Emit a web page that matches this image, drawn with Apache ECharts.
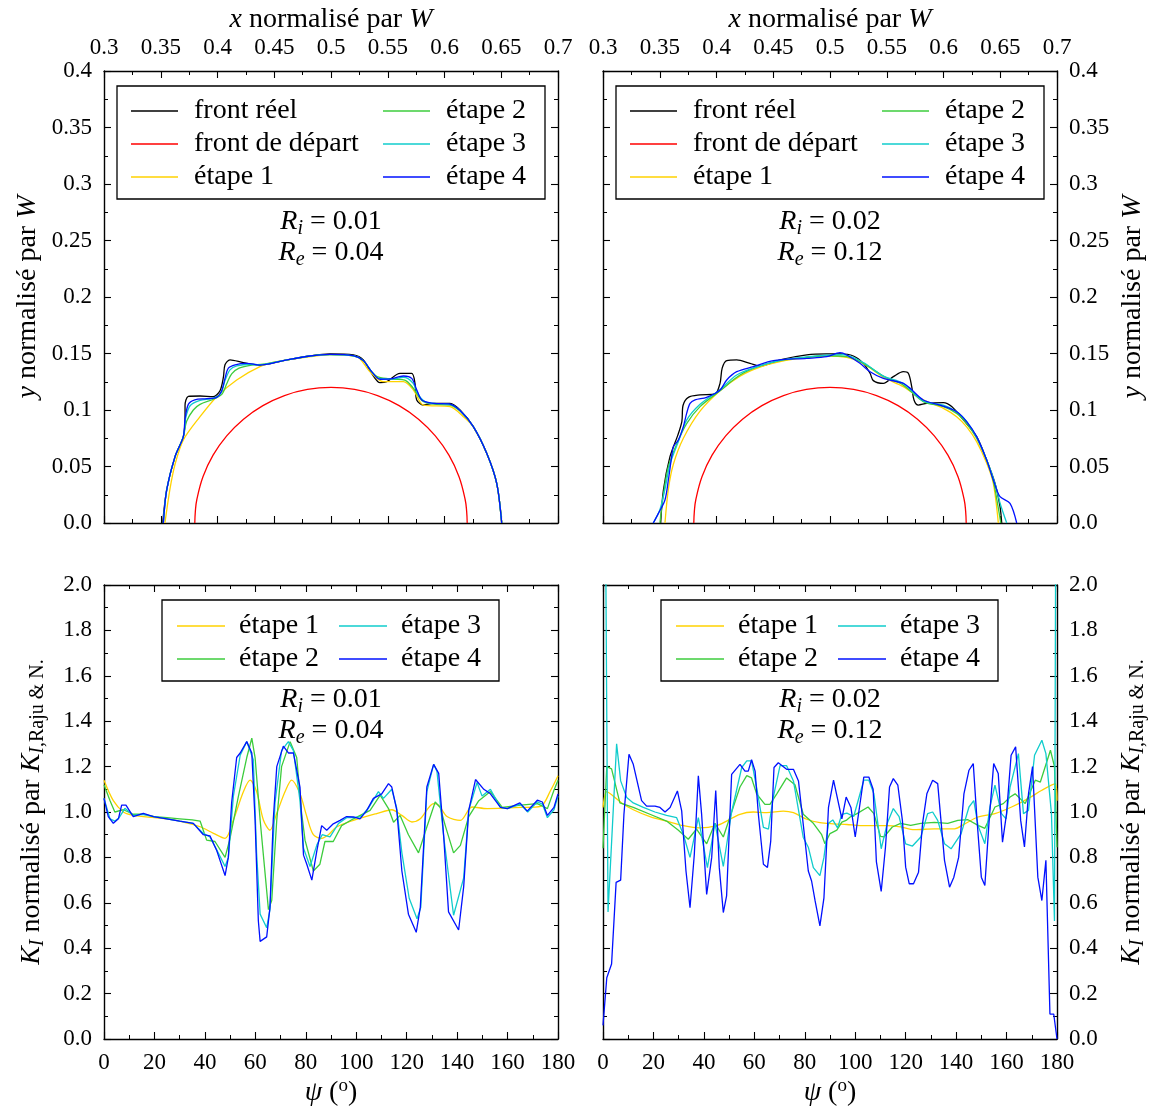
<!DOCTYPE html>
<html><head><meta charset="utf-8">
<script src="https://cdn.jsdelivr.net/npm/echarts@6/dist/echarts.min.js"></script>
<style>html,body{margin:0;padding:0;background:#fff}#c{width:1151px;height:1108px}</style>
</head><body><div id="c"></div><script>
const FONT = 'Liberation Serif';

// ---------- axis ranges [min, max, interval] ----------
const xTopRange = [0.3, 0.7, 0.05];
const yTopRange = [0, 0.4, 0.05];
const psiRange = [0, 180, 20];
const kRange = [0, 2, 0.2];

// ---------- legend labels ----------
const topLegendCol1 = ['front réel', 'front de départ', 'étape 1'];
const topLegendCol2 = ['étape 2', 'étape 3', 'étape 4'];
const botLegendCol1 = ['étape 1', 'étape 2'];
const botLegendCol2 = ['étape 3', 'étape 4'];
const annotTL = ['0.01', '0.04'];
const annotTR = ['0.02', '0.12'];

// ---------- top-left: fronts (x, y) ----------
const tlBlack = [[0.3517,0],[0.3552,0.029],[0.3626,0.0587],[0.3699,0.0764],[0.3714,0.094],[0.3714,0.104],[0.3743,0.112],[0.3846,0.1124],[0.3963,0.1118],[0.4022,0.117],[0.4052,0.129],[0.4066,0.140],[0.4110,0.1443],[0.4228,0.1419],[0.4374,0.1398],[0.4580,0.1437],[0.4815,0.1478],[0.4991,0.1496],[0.5197,0.1487],[0.5285,0.1443],[0.5358,0.1325],[0.5432,0.1242],[0.5491,0.1251],[0.5608,0.1325],[0.5711,0.1325],[0.5740,0.1236],[0.5755,0.1089],[0.5814,0.1044],[0.5902,0.1059],[0.6049,0.1059],[0.6137,0.1000],[0.6254,0.0853],[0.6372,0.0617],[0.6460,0.0351],[0.6504,0]];
const startFront = [[0.38,0],[0.3805,0.0105],[0.3818,0.0208],[0.3872,0.0410],[0.3961,0.06],[0.4081,0.0771],[0.4229,0.0919],[0.44,0.1039],[0.4590,0.1128],[0.4792,0.1182],[0.5,0.12],[0.5208,0.1182],[0.5410,0.1128],[0.56,0.1039],[0.5771,0.0919],[0.5919,0.0771],[0.6039,0.06],[0.6128,0.0410],[0.6182,0.0208],[0.6195,0.0105],[0.62,0]];
const tlStep1 = [[0.3537,0],[0.3581,0.030],[0.3626,0.052],[0.3699,0.0735],[0.3846,0.0941],[0.3993,0.1118],[0.4169,0.1266],[0.4374,0.1384],[0.4521,0.1428],[0.4815,0.1472],[0.4991,0.1490],[0.5226,0.1472],[0.5344,0.1339],[0.5461,0.1251],[0.5638,0.1251],[0.5726,0.1177],[0.5814,0.1044],[0.6049,0.1030],[0.6166,0.0941],[0.6254,0.085],[0.6372,0.0617],[0.6460,0.0351],[0.6504,0]];
const tlStep2 = [[0.3523,0],[0.3552,0.029],[0.3626,0.0587],[0.3699,0.0764],[0.3728,0.090],[0.3787,0.100],[0.3846,0.1050],[0.3963,0.1095],[0.4040,0.114],[0.4080,0.123],[0.4125,0.1320],[0.4190,0.137],[0.4300,0.1398],[0.4400,0.1405],[0.4580,0.1437],[0.4815,0.1478],[0.4991,0.1490],[0.5197,0.1480],[0.5285,0.1437],[0.5358,0.134],[0.5420,0.1290],[0.5549,0.1272],[0.5650,0.1265],[0.5726,0.1192],[0.5800,0.1085],[0.5902,0.1052],[0.6049,0.1044],[0.6137,0.0990],[0.6254,0.0853],[0.6372,0.0617],[0.6460,0.0351],[0.6504,0]];
const tlStep3 = [[0.3523,0],[0.3552,0.029],[0.3626,0.0587],[0.3699,0.0764],[0.3720,0.093],[0.3760,0.104],[0.3846,0.1085],[0.3963,0.1105],[0.4030,0.115],[0.4066,0.126],[0.4110,0.1355],[0.4170,0.139],[0.4286,0.1405],[0.4374,0.1400],[0.4580,0.1437],[0.4815,0.1478],[0.4991,0.1490],[0.5197,0.1480],[0.5285,0.1437],[0.5358,0.134],[0.5420,0.128],[0.5549,0.1275],[0.5638,0.1290],[0.5720,0.124],[0.5780,0.112],[0.5850,0.1065],[0.6049,0.1050],[0.6137,0.0995],[0.6254,0.0853],[0.6372,0.0617],[0.6460,0.0351],[0.6504,0]];
const tlStep4 = [[0.3523,0],[0.3552,0.029],[0.3626,0.0587],[0.3699,0.0764],[0.3714,0.092],[0.3743,0.105],[0.3800,0.109],[0.3905,0.110],[0.3993,0.1112],[0.4037,0.117],[0.4066,0.128],[0.4096,0.137],[0.4155,0.140],[0.4257,0.1413],[0.4374,0.1398],[0.4580,0.1437],[0.4815,0.1478],[0.4991,0.1492],[0.5197,0.1482],[0.5285,0.1437],[0.5358,0.134],[0.5432,0.1272],[0.5520,0.1275],[0.5638,0.1301],[0.5711,0.128],[0.5755,0.118],[0.5800,0.1089],[0.5902,0.1059],[0.6049,0.1052],[0.6137,0.0995],[0.6254,0.0853],[0.6372,0.0617],[0.6460,0.0351],[0.6504,0]];

// ---------- top-right: fronts (x, y) ----------
const trBlack = [[0.3508,0],[0.3532,0.029],[0.3590,0.0587],[0.3660,0.078],[0.3695,0.090],[0.3705,0.104],[0.3752,0.1112],[0.3855,0.1133],[0.3987,0.1142],[0.4031,0.1236],[0.4050,0.1370],[0.4090,0.1437],[0.4178,0.1443],[0.4295,0.1413],[0.4383,0.139],[0.4560,0.1443],[0.4795,0.1487],[0.4971,0.1496],[0.5088,0.1496],[0.5206,0.1478],[0.5294,0.1413],[0.5353,0.1325],[0.5382,0.1260],[0.5470,0.1236],[0.5558,0.1295],[0.5646,0.1339],[0.5690,0.1325],[0.5720,0.1207],[0.5740,0.1089],[0.5778,0.1044],[0.5852,0.1059],[0.5999,0.1065],[0.6072,0.1030],[0.6175,0.0912],[0.6292,0.0764],[0.6380,0.0558],[0.6454,0.0351],[0.6498,0.0145],[0.6513,0]];
const trStep1 = [[0.3546,0],[0.3576,0.03],[0.3620,0.052],[0.3708,0.075],[0.3855,0.099],[0.4031,0.117],[0.4207,0.130],[0.4383,0.138],[0.4560,0.1428],[0.4795,0.1465],[0.4971,0.1478],[0.5147,0.1465],[0.5294,0.1413],[0.5470,0.1290],[0.5646,0.1207],[0.5822,0.1089],[0.5999,0.1015],[0.6116,0.0941],[0.6204,0.085],[0.6292,0.072],[0.6380,0.0530],[0.6439,0.035],[0.6483,0]];
const trStep2 = [[0.3502,0],[0.3532,0.025],[0.3576,0.05],[0.3650,0.070],[0.3737,0.088],[0.3855,0.103],[0.4031,0.117],[0.4207,0.131],[0.4383,0.139],[0.4560,0.1437],[0.4795,0.1465],[0.4971,0.1480],[0.5147,0.1472],[0.5294,0.1413],[0.5470,0.1300],[0.5646,0.1220],[0.5822,0.1074],[0.5999,0.1030],[0.6116,0.097],[0.6204,0.088],[0.6292,0.075],[0.6380,0.0560],[0.6439,0.037],[0.6480,0.015],[0.6505,0]];
const trStep3 = [[0.3443,0],[0.3502,0.012],[0.3546,0.03],[0.3590,0.052],[0.3664,0.072],[0.3737,0.091],[0.3855,0.105],[0.4031,0.118],[0.4178,0.131],[0.4383,0.139],[0.4560,0.1440],[0.4795,0.1470],[0.4971,0.1485],[0.5118,0.1490],[0.5294,0.1420],[0.5470,0.1300],[0.5646,0.1236],[0.5822,0.1080],[0.5999,0.1044],[0.6116,0.0985],[0.6204,0.090],[0.6292,0.076],[0.6380,0.056],[0.6454,0.035],[0.6500,0.017],[0.6557,0]];
const trStep4 = [[0.3443,0],[0.3488,0.0085],[0.3546,0.0204],[0.3576,0.0381],[0.3605,0.0587],[0.3620,0.0675],[0.3664,0.0735],[0.3708,0.0853],[0.3737,0.097],[0.3767,0.1059],[0.3811,0.1089],[0.3913,0.1112],[0.4031,0.1177],[0.4090,0.1266],[0.4178,0.1339],[0.4325,0.1384],[0.4501,0.1437],[0.4795,0.1457],[0.4971,0.1472],[0.5088,0.1507],[0.5147,0.1487],[0.5264,0.1413],[0.5353,0.1339],[0.5470,0.1280],[0.5646,0.1236],[0.5706,0.1192],[0.5822,0.1089],[0.5969,0.1044],[0.6116,0.0985],[0.6204,0.0897],[0.6292,0.0764],[0.6380,0.0557],[0.6439,0.0381],[0.6498,0.0233],[0.6586,0.0174],[0.6645,0]];

// ---------- bottom-left: K_I (psi, K) ----------
const blStep1 = [[0,1.14],[3.7,1.05],[7.7,1.0],[11.6,0.985],[20,0.975],[25,0.97],[30,0.96],[38.1,0.935],[43.4,0.906],[48,0.884],[51.3,0.965],[55.3,1.09],[57.9,1.14],[60.5,1.09],[63.2,0.965],[65.8,0.92],[68.5,0.994],[71.8,1.09],[74.4,1.14],[77.7,1.08],[80.4,0.98],[83,0.90],[86.3,0.884],[89,0.90],[92.2,0.934],[98.9,0.963],[108.1,0.993],[114.1,1.01],[118.1,0.985],[122.1,0.956],[125.4,0.97],[130.7,1.037],[132.7,1.03],[136,0.98],[141.3,0.963],[145.9,1.022],[151.9,1.015],[165.2,1.02],[173.1,1.025],[177.1,1.096],[180,1.16]];
const blStep2 = [[0,1.12],[2.4,1.05],[4.3,1.0],[7.7,1.01],[11.6,0.99],[15.6,0.99],[20,0.98],[25,0.975],[30,0.97],[35,0.965],[38.1,0.96],[40.7,0.876],[44,0.87],[48,0.80],[49.9,0.88],[53.3,1.07],[56.6,1.24],[58.6,1.325],[59.9,1.24],[61.9,0.965],[65.2,0.57],[66.5,0.61],[68.5,0.965],[70.4,1.2],[73.8,1.31],[76.4,1.24],[78.3,1.0],[79.7,0.876],[83,0.74],[85.6,0.77],[87.6,0.87],[90.9,0.87],[94.2,0.94],[98.9,0.97],[105.5,1.007],[109.5,1.074],[112.8,1.015],[114.8,0.955],[117.4,0.985],[120.7,0.90],[124.7,0.82],[128,0.934],[131.3,1.044],[133.3,1.02],[135.3,0.94],[138.6,0.82],[141.3,0.853],[144.6,0.98],[148.6,1.05],[153.2,1.09],[157.9,1.02],[165.2,1.03],[171.8,1.037],[175.8,1.015],[178.4,1.096],[180,1.14]];
const blStep3 = [[0,1.06],[2.4,0.97],[4.3,0.96],[6,0.975],[8.3,1.016],[11.6,0.985],[15.6,0.99],[19.6,0.98],[24.9,0.97],[30,0.96],[35.4,0.95],[39.4,0.906],[42,0.89],[45.3,0.82],[48,0.76],[49.3,0.80],[51.3,1.07],[54,1.25],[56.6,1.31],[59.2,1.23],[60.5,0.82],[61.9,0.55],[64.5,0.49],[65.8,0.57],[67.8,1.04],[70.4,1.27],[73.1,1.31],[75.1,1.27],[77.7,1.05],[79.1,0.84],[81.7,0.76],[84.4,0.855],[86.5,0.90],[89.6,0.89],[93,0.95],[96.2,0.975],[99,0.975],[102,0.98],[105,1.02],[108.8,1.09],[110.8,1.06],[114.1,1.10],[116,1.02],[118.1,0.82],[121,0.62],[124.1,0.53],[125.6,0.58],[128,1.09],[130.7,1.21],[132,1.18],[134.7,0.89],[138.6,0.545],[142.6,0.71],[144.6,1.007],[147.9,1.13],[149.9,1.07],[153.2,1.10],[157.2,1.02],[160,1.015],[165,1.035],[168,1.0],[171.8,1.045],[173.8,1.035],[175.8,0.975],[178.4,1.01],[180,1.07]];
const blStep4 = [[0,1.06],[1.7,0.98],[3.7,0.95],[5.7,0.97],[7,1.03],[8.7,1.03],[11.6,0.98],[15.6,0.994],[19.6,0.98],[24.9,0.97],[30,0.96],[35.4,0.95],[39.4,0.90],[42,0.895],[44.7,0.83],[48,0.72],[49.3,0.80],[50.6,1.04],[52.6,1.24],[54,1.26],[56.6,1.31],[58.6,1.26],[59.9,0.965],[61.2,0.52],[61.9,0.43],[64.5,0.45],[65.8,0.58],[67.1,0.965],[68.5,1.2],[71.1,1.29],[73.1,1.26],[75.1,1.26],[77.7,1.11],[79.1,0.81],[80.4,0.77],[82.4,0.70],[84.4,0.83],[86.3,0.94],[88.3,0.92],[90.9,0.948],[93.6,0.963],[96.2,0.98],[98.9,0.978],[101.5,0.97],[104.2,1.007],[106.8,1.06],[110.1,1.08],[112.8,1.125],[114.1,1.11],[116.1,1.007],[118.1,0.74],[120.7,0.55],[123.8,0.47],[125.4,0.58],[128.0,1.11],[130.7,1.21],[132.7,1.17],[134.7,0.89],[136.6,0.56],[140.6,0.48],[142.6,0.67],[144.6,1.007],[147.3,1.143],[150.6,1.10],[153.2,1.08],[157.2,1.02],[159.9,1.015],[164.9,1.04],[167.8,1.004],[171.8,1.052],[173.8,1.044],[175.8,0.985],[178.4,1.02],[180,1.08]];

// ---------- bottom-right: K_I (psi, K) ----------
const brStep1 = [[0,1.02],[1.5,1.09],[4.1,1.07],[7.4,1.04],[12,1.01],[18.6,0.98],[25.2,0.96],[31.9,0.94],[38.5,0.93],[45.1,0.94],[49,0.96],[54.3,0.99],[59.6,1.0],[64.9,0.997],[71.5,1.004],[75.5,0.997],[80.8,0.968],[86,0.953],[91.4,0.948],[96.7,0.945],[102,0.94],[112.7,0.94],[118,0.934],[123.4,0.922],[131.4,0.926],[139.4,0.926],[143.4,0.948],[148.7,0.978],[155.4,0.993],[162,1.022],[168.7,1.06],[174,1.096],[179.3,1.125],[180,1.05]];
const brStep2 = [[0,0.84],[1.5,1.2],[3.4,1.19],[6.7,1.04],[12,1.02],[18.6,0.99],[25.2,0.96],[29.9,0.92],[33.8,0.88],[37.1,0.925],[41.1,0.86],[44.4,0.95],[47.7,0.89],[51,1.0],[54.3,1.11],[57,1.16],[58.9,1.15],[60.9,1.08],[64.2,1.034],[66.2,1.034],[68.9,1.08],[72.8,1.15],[76.1,1.12],[79.4,0.99],[83.4,0.95],[86.7,0.90],[88,0.86],[90,0.905],[92.7,0.92],[94.7,0.955],[96.4,0.963],[98,0.978],[100.7,0.993],[105.1,1.022],[107.4,0.993],[110,0.893],[111.4,0.89],[114.7,0.934],[118,0.95],[122,0.941],[126,0.95],[131.4,0.954],[136.7,0.95],[140.7,0.963],[144.7,0.966],[148.7,0.941],[151.4,0.928],[155.4,1.022],[158.7,1.037],[161.4,1.066],[163.4,1.08],[167.4,1.037],[171.4,1.14],[173.4,1.132],[177.4,1.272],[179,1.2],[180,0.845]];
const brStep3 = [[0,4.0],[2,0.56],[5.4,1.30],[7,1.137],[9.4,1.064],[12,1.04],[16,1.02],[20.6,1.0],[25.2,0.985],[29.2,0.975],[31.9,0.90],[34.5,0.80],[37.8,0.975],[41.4,0.755],[44.4,0.95],[47.7,0.76],[51,1.00],[55,1.196],[57,1.225],[58.9,1.225],[60.9,1.108],[63.6,0.932],[65.6,0.925],[67.5,1.064],[70.2,1.204],[72.8,1.204],[75.5,1.137],[79.4,0.888],[81.4,0.845],[83.4,0.755],[86,0.72],[87.6,0.80],[89.4,0.95],[91.1,0.965],[93,0.93],[94.7,0.99],[96.7,0.995],[99.4,0.98],[103.4,1.14],[105.4,1.14],[107.4,1.08],[110.3,0.838],[112.7,0.95],[115.1,1.015],[117.4,0.98],[120,0.86],[122.7,0.85],[126,0.89],[128.7,0.993],[130.7,1.0],[132.7,0.963],[135.4,0.86],[138,0.838],[142,0.905],[145.1,1.022],[147,1.05],[148.7,0.94],[151.4,0.86],[153.4,1.022],[155.4,1.118],[158,0.993],[159.8,0.97],[161.4,1.11],[164.7,1.257],[166.7,0.993],[168.7,1.007],[171.1,1.25],[174,1.316],[175.6,1.257],[177.8,0.993],[179,0.52],[180,4.0]];
const brStep4 = [[0,0.06],[1.5,0.27],[3.4,0.33],[5.2,0.69],[7,0.70],[8.3,0.99],[10.3,1.254],[12,1.21],[15.3,1.05],[17.3,1.026],[20.6,1.026],[22.6,1.02],[24.6,1.0],[26.6,1.02],[29.5,1.093],[31.2,1.005],[32.9,0.74],[34.5,0.578],[36.2,0.813],[37.8,1.159],[39.1,0.99],[41.1,0.637],[43.1,0.80],[44.7,1.095],[46.1,0.756],[47.7,0.557],[49,0.63],[51,1.166],[54.3,1.21],[56.3,1.18],[57.6,1.18],[58.9,1.23],[60.3,1.18],[61.6,0.99],[63.6,0.77],[65.2,0.756],[66.5,0.872],[67.8,1.196],[69.5,1.217],[72.8,1.188],[75.5,1.188],[77.5,1.137],[79.4,0.945],[81.4,0.74],[82.7,0.696],[84.1,0.608],[86,0.498],[87.6,0.622],[89.4,1.02],[91.4,1.14],[94.7,0.97],[96.4,1.066],[98.3,1.02],[100,0.89],[103.4,1.154],[105.4,1.154],[107.1,1.10],[108.4,0.78],[110.3,0.65],[112,0.846],[113.6,1.11],[115.1,1.147],[116.9,1.118],[118.7,0.963],[120,0.757],[121.4,0.684],[123.1,0.684],[125.1,0.735],[126.7,0.95],[128.4,1.08],[130.7,1.14],[132.7,1.125],[135.4,0.787],[137.4,0.669],[139.1,0.713],[141,0.80],[143.1,1.08],[145.1,1.184],[146.8,1.213],[148.2,0.978],[150,0.713],[151.4,0.676],[153.1,0.963],[154.9,1.213],[156.7,1.17],[158.4,0.867],[160,0.993],[161.8,1.25],[163.6,1.287],[165.6,0.963],[167.1,0.846],[168.7,1.08],[170.3,1.20],[172.4,0.713],[174,0.61],[175.6,0.787],[177.2,0.11],[178.7,0.11],[180,0.0]];

// ---------- styling ----------
const COL = {'front réel':'#000000','front de départ':'#ff0000','étape 1':'#ffd200','étape 2':'#3ccc3c','étape 3':'#10cccc','étape 4':'#0010ff'};
const FS = 28, FSS = 20;
const RICH = {
  i:{fontFamily:FONT,fontStyle:'italic',fontSize:FS,color:'#000'},
  s:{fontFamily:FONT,fontStyle:'italic',fontSize:FSS,color:'#000',padding:[13,0,0,0]},
  t:{fontFamily:FONT,fontSize:FSS,color:'#000',padding:[13,0,0,0]},
  sup:{fontFamily:FONT,fontSize:19,color:'#000',padding:[0,0,12,0]},
  n:{fontFamily:FONT,fontSize:FS,color:'#000'}
};
const nameStyle = {fontFamily:FONT,fontSize:FS,color:'#000',rich:RICH};

const fmtTopX = v => String(parseFloat(v.toFixed(2)));
const fmtTopY = v => v === 0 ? '0.0' : String(parseFloat(v.toFixed(2)));
const fmtK = v => v.toFixed(1);
const fmtPsi = v => String(Math.round(v));

function axis(gi, pos, rng, lab, fmt, name, gap) {
  const a = {
    type:'value', gridIndex:gi, position:pos, min:rng[0], max:rng[1], interval:rng[2],
    axisLine:{show:true,onZero:false,lineStyle:{color:'#000',width:1.4}},
    axisTick:{show:true,inside:true,length:7,lineStyle:{color:'#000',width:1.1}},
    minorTick:{show:true,splitNumber:2,length:4,lineStyle:{color:'#000',width:1}},
    splitLine:{show:false}, minorSplitLine:{show:false},
    axisLabel:{show:lab,fontFamily:FONT,fontSize:23,color:'#000',margin:12,formatter:fmt}
  };
  if (name) { a.name = name; a.nameLocation = 'middle'; a.nameGap = gap; a.nameTextStyle = nameStyle; }
  return a;
}

const grids = [
  {left:104,top:71,width:454,height:452},
  {left:603,top:71,width:454,height:452},
  {left:104,top:585,width:454,height:454},
  {left:603,top:585,width:454,height:454}
].map(g => Object.assign(g, {containLabel:false, outerBoundsMode:'none'}));

const xNameTop = '{i|x} normalisé par {i|W}';
const yNameTop = '{i|y} normalisé par {i|W}';
const kName = '{i|K}{s|I} normalisé par {i|K}{s|I}{t|,Raju & N.}';
const psiName = '{i|ψ} ({sup|o})';

const xAxes = [
  axis(0,'bottom',xTopRange,false,fmtTopX), axis(0,'top',xTopRange,true,fmtTopX,xNameTop,37),
  axis(1,'bottom',xTopRange,false,fmtTopX), axis(1,'top',xTopRange,true,fmtTopX,xNameTop,37),
  axis(2,'bottom',psiRange,true,fmtPsi,psiName,38), axis(2,'top',psiRange,false,fmtPsi),
  axis(3,'bottom',psiRange,true,fmtPsi,psiName,38), axis(3,'top',psiRange,false,fmtPsi)
];
const yAxes = [
  axis(0,'left',yTopRange,true,fmtTopY,yNameTop,62), axis(0,'right',yTopRange,false,fmtTopY),
  axis(1,'left',yTopRange,false,fmtTopY), axis(1,'right',yTopRange,true,fmtTopY,yNameTop,62),
  axis(2,'left',kRange,true,fmtK,kName,56), axis(2,'right',kRange,false,fmtK),
  axis(3,'left',kRange,false,fmtK), axis(3,'right',kRange,true,fmtK,kName,58)
];

function line(name, data, gi, smooth) {
  return {type:'line', name, data, xAxisIndex:2*gi, yAxisIndex:2*gi, symbol:'none', showSymbol:false,
    smooth: smooth || false, color: COL[name], itemStyle:{color:COL[name]}, lineStyle:{color:COL[name],width:1.3}, animation:false, z:2};
}

const series = [
  line('front réel', tlBlack, 0, 0.3), line('front de départ', startFront, 0, 0.4), line('étape 1', tlStep1, 0, 0.3),
  line('étape 2', tlStep2, 0, 0.3), line('étape 3', tlStep3, 0, 0.3), line('étape 4', tlStep4, 0, 0.3),
  line('front réel', trBlack, 1, 0.3), line('front de départ', startFront, 1, 0.4), line('étape 1', trStep1, 1, 0.3),
  line('étape 2', trStep2, 1, 0.3), line('étape 3', trStep3, 1, 0.3), line('étape 4', trStep4, 1, 0.3),
  line('étape 1', blStep1, 2, 0.3), line('étape 2', blStep2, 2), line('étape 3', blStep3, 2), line('étape 4', blStep4, 2),
  line('étape 1', brStep1, 3, 0.3), line('étape 2', brStep2, 3), line('étape 3', brStep3, 3), line('étape 4', brStep4, 3)
];

function legend(data, left, top, iw, pad) {
  return {show:true, orient:'vertical', left, top, padding:0, itemWidth:iw, itemHeight:1.4, itemGap:5,
    icon:'rect', selectedMode:false, data,
    textStyle:{fontFamily:FONT,fontSize:FS,color:'#000',lineHeight:28,padding:[0,0,0,pad]}};
}
const legends = [
  legend(topLegendCol1,131,97,47,11), legend(topLegendCol2,383,97,47,11),
  legend(topLegendCol1,630,97,47,11), legend(topLegendCol2,882,97,47,11),
  legend(botLegendCol1,177,612,48,9), legend(botLegendCol2,339,612,48,9),
  legend(botLegendCol1,676,612,48,9), legend(botLegendCol2,838,612,48,9)
];

function box(x,y,w,h){ return {type:'rect',shape:{x,y,width:w,height:h},style:{fill:'none',stroke:'#000',lineWidth:1.3},z:100,silent:true}; }
function annot(x,y,sub,val){ return {type:'text',x,y,z:100,silent:true,style:{text:'{i|R}{s|'+sub+'}{n| = '+val+'}',rich:RICH,align:'center',verticalAlign:'middle',fill:'#000'}}; }

const graphic = [
  box(117,86,428,113), box(616,86,428,113), box(162,600,337,81), box(661,600,337,81),
  annot(331,222,'i',annotTL[0]), annot(331,253,'e',annotTL[1]),
  annot(830,222,'i',annotTR[0]), annot(830,253,'e',annotTR[1]),
  annot(331,700,'i',annotTL[0]), annot(331,731,'e',annotTL[1]),
  annot(830,700,'i',annotTR[0]), annot(830,731,'e',annotTR[1])
];

const chart = echarts.init(document.getElementById('c'), null, {renderer:'canvas'});
chart.setOption({
  backgroundColor:'#fff', animation:false,
  grid:grids, xAxis:xAxes, yAxis:yAxes, series, legend:legends, graphic
});
</script></body></html>
